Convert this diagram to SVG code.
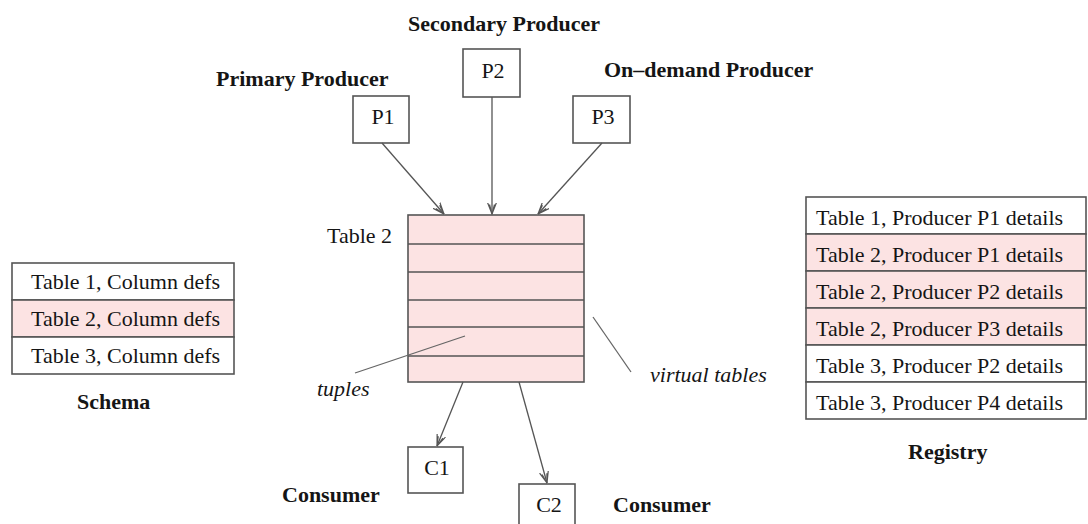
<svg xmlns="http://www.w3.org/2000/svg" width="1088" height="524" viewBox="0 0 1088 524">
<style>
  text { font-family: "Liberation Serif", "Times New Roman", serif; fill: #151515; }
  .lbl { font-size: 22px; font-weight: bold; }
  .cell { font-size: 22px; }
  .it { font-size: 22px; font-style: italic; }
  .box { fill: #ffffff; stroke: #555; stroke-width: 1.6; }
  .pink { fill: #fce3e3; stroke: #555; stroke-width: 1.6; }
  .row { stroke: #555; stroke-width: 1.6; }
  .conn { stroke: #555; stroke-width: 1.3; fill: none; }
  .ptr { stroke: #666; stroke-width: 1.3; fill: none; }
</style>
<defs>
  <marker id="arr" viewBox="0 0 12 10" refX="11.5" refY="5" markerWidth="12" markerHeight="10" markerUnits="userSpaceOnUse" orient="auto">
    <path d="M0,0.5 L11.5,5 L0,9.5 M2,2.5 L11.5,5 L2,7.5" fill="none" stroke="#555" stroke-width="1.2"/>
  </marker>
</defs>
<rect width="1088" height="524" fill="#ffffff"/>

<g id="primary-producer">
  <text class="lbl" x="216" y="86">Primary Producer</text>
  <rect class="box" x="353" y="96" width="56" height="47"/>
  <text class="cell" x="383" y="124" text-anchor="middle">P1</text>
</g>
<g id="secondary-producer">
  <text class="lbl" x="408" y="31">Secondary Producer</text>
  <rect class="box" x="463" y="49" width="57" height="48"/>
  <text class="cell" x="493" y="78" text-anchor="middle">P2</text>
</g>
<g id="ondemand-producer">
  <text class="lbl" x="604" y="77">On–demand Producer</text>
  <rect class="box" x="573" y="96" width="57" height="47"/>
  <text class="cell" x="603" y="124" text-anchor="middle">P3</text>
</g>

<g id="table2">
  <text class="cell" x="327" y="243">Table 2</text>
  <rect class="pink" x="408" y="215" width="176" height="167"/>
  <line class="row" x1="408" y1="244" x2="584" y2="244"/>
  <line class="row" x1="408" y1="272" x2="584" y2="272"/>
  <line class="row" x1="408" y1="300" x2="584" y2="300"/>
  <line class="row" x1="408" y1="327" x2="584" y2="327"/>
  <line class="row" x1="408" y1="356" x2="584" y2="356"/>
</g>
<g id="tuples-label">
  <text class="it" x="317" y="396">tuples</text>
</g>
<g id="virtual-tables-label">
  <text class="it" x="650" y="382">virtual tables</text>
</g>

<g id="consumer-c1">
  <rect class="box" x="408" y="447" width="55" height="46"/>
  <text class="cell" x="437" y="475" text-anchor="middle">C1</text>
  <text class="lbl" x="282" y="502">Consumer</text>
</g>
<g id="consumer-c2">
  <rect class="box" x="519" y="484" width="56" height="46"/>
  <text class="cell" x="549" y="512" text-anchor="middle">C2</text>
  <text class="lbl" x="613" y="512">Consumer</text>
</g>

<g id="schema">
  <rect class="box" x="12" y="263" width="222" height="37"/>
  <rect class="pink" x="12" y="300" width="222" height="37"/>
  <rect class="box" x="12" y="337" width="222" height="37"/>
  <text class="cell" x="31" y="289">Table 1, Column defs</text>
  <text class="cell" x="31" y="326">Table 2, Column defs</text>
  <text class="cell" x="31" y="363">Table 3, Column defs</text>
  <text class="lbl" x="77" y="409">Schema</text>
</g>

<g id="registry">
  <rect class="box" x="806" y="197" width="280" height="37"/>
  <rect class="pink" x="806" y="234" width="280" height="37"/>
  <rect class="pink" x="806" y="271" width="280" height="37"/>
  <rect class="pink" x="806" y="308" width="280" height="37"/>
  <rect class="box" x="806" y="345" width="280" height="37"/>
  <rect class="box" x="806" y="382" width="280" height="37"/>
  <text class="cell" x="816" y="225">Table 1, Producer P1 details</text>
  <text class="cell" x="816" y="262">Table 2, Producer P1 details</text>
  <text class="cell" x="816" y="299">Table 2, Producer P2 details</text>
  <text class="cell" x="816" y="336">Table 2, Producer P3 details</text>
  <text class="cell" x="816" y="373">Table 3, Producer P2 details</text>
  <text class="cell" x="816" y="410">Table 3, Producer P4 details</text>
  <text class="lbl" x="908" y="459">Registry</text>
</g>

<g id="connectors">
  <line class="conn" x1="382" y1="143" x2="444" y2="214" marker-end="url(#arr)"/>
  <line class="conn" x1="492" y1="97" x2="492" y2="214" marker-end="url(#arr)"/>
  <line class="conn" x1="602" y1="143" x2="538" y2="214" marker-end="url(#arr)"/>
  <line class="conn" x1="463" y1="382" x2="437" y2="446" marker-end="url(#arr)"/>
  <line class="conn" x1="519" y1="382" x2="547" y2="483" marker-end="url(#arr)"/>
  <line class="ptr" x1="355" y1="373" x2="465" y2="336"/>
  <line class="ptr" x1="593" y1="317" x2="631" y2="372"/>
</g>
</svg>
